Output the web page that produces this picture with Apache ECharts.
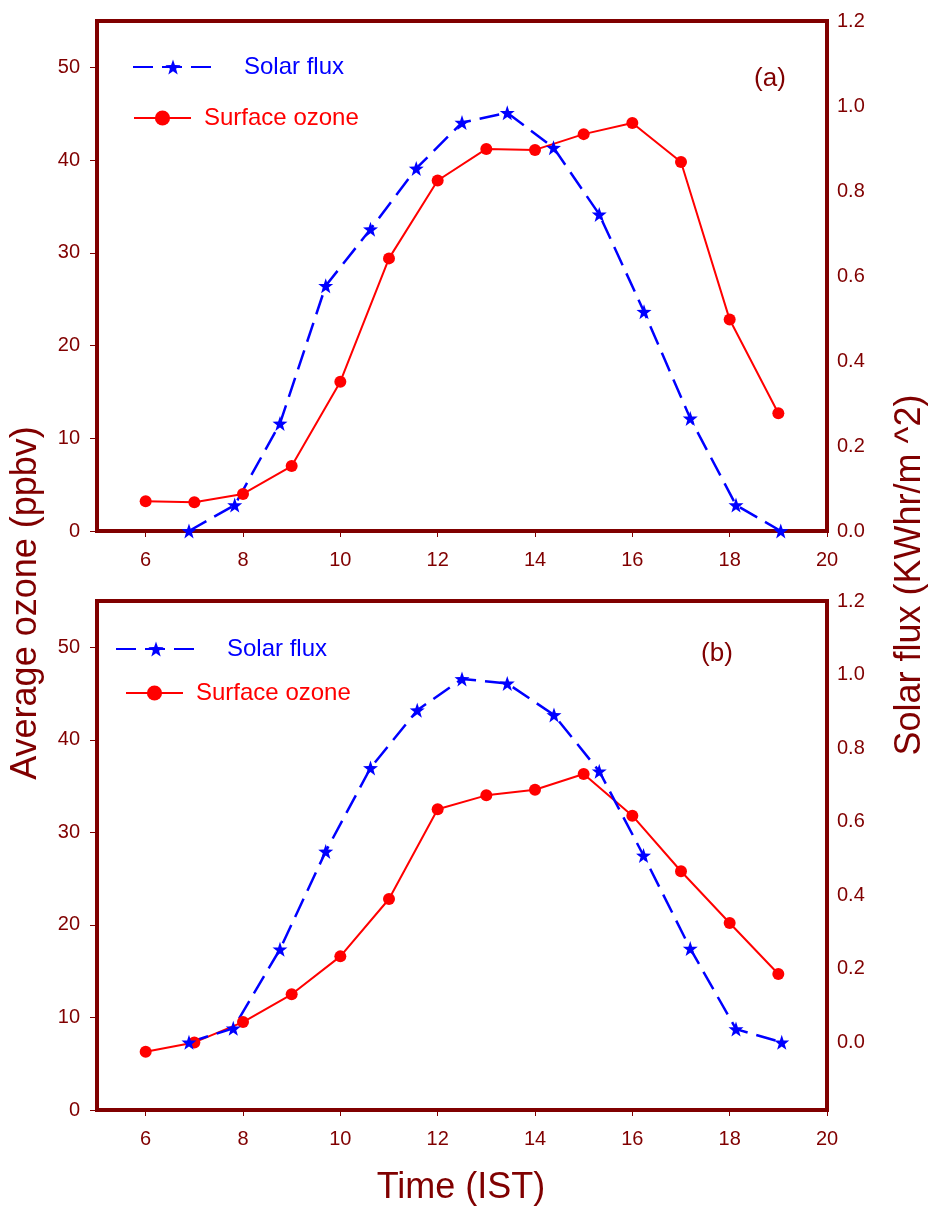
<!DOCTYPE html>
<html lang="en">
<head>
    <meta charset="UTF-8">
    <title>Surface ozone and solar flux</title>
    <script src="https://cdn.jsdelivr.net/npm/echarts@6/dist/echarts.min.js"></script>
    <style>
        html, body { margin: 0; padding: 0; background: #fff; }
        #main { width: 930px; height: 1206px; }
    </style>
</head>
<body>
<div id="main"></div>
<script>
    // hours for the ozone points
    var hours = [6, 7, 8, 9, 10, 11, 12, 13, 14, 15, 16, 17, 18, 19];
    // panel (a)
    var ozoneA = [3.2, 3.1, 4.0, 7.0, 16.1, 29.4, 37.8, 41.2, 41.1, 42.8, 44.0, 39.8, 22.8, 12.7];
    var fluxTimeA = [6.89, 7.83, 8.76, 9.70, 10.62, 11.56, 12.50, 13.43, 14.38, 15.32, 16.24, 17.19, 18.13, 19.05];
    var fluxA = [0.0, 0.061, 0.253, 0.577, 0.710, 0.853, 0.961, 0.984, 0.902, 0.745, 0.516, 0.265, 0.061, 0.0];
    // panel (b)
    var ozoneB = [6.3, 7.3, 9.5, 12.5, 16.6, 22.8, 32.5, 34.0, 34.6, 36.3, 31.8, 25.8, 20.2, 14.7];
    var fluxTimeB = [6.89, 7.80, 8.76, 9.70, 10.62, 11.58, 12.50, 13.43, 14.39, 15.32, 16.23, 17.19, 18.13, 19.07];
    var fluxB = [0.0, 0.038, 0.253, 0.519, 0.746, 0.903, 0.988, 0.976, 0.890, 0.737, 0.508, 0.255, 0.036, 0.0];
    // tick labels
    var xTicks = [6, 8, 10, 12, 14, 16, 18, 20];
    var ozoneTicks = [0, 10, 20, 30, 40, 50];
    var fluxTicks = [0, 0.2, 0.4, 0.6, 0.8, 1.0, 1.2];

    var maroon = '#800000';
    var font = 'Arial, "Liberation Sans", sans-serif';
    var star = 'path://M0,-10 L2.35,-3.24 L9.51,-3.09 L3.8,1.24 L5.88,8.09 L0,4 L-5.88,8.09 L-3.8,1.24 L-9.51,-3.09 L-2.35,-3.24 Z';

    function pairs(xs, ys) {
        var out = [];
        for (var i = 0; i < xs.length; i++) out.push([xs[i], ys[i]]);
        return out;
    }

    function xAxisFor(g) {
        return {
            type: 'value', gridIndex: g, min: 5, max: 20,
            splitLine: {show: false},
            axisLine: {show: true, lineStyle: {color: maroon, width: 4}},
            axisTick: {show: true, length: 6, customValues: xTicks, lineStyle: {color: maroon, width: 1}},
            axisLabel: {customValues: xTicks, color: maroon, fontSize: 20, fontFamily: font, margin: 19}
        };
    }

    function ozoneAxis(g) {
        return {
            type: 'value', gridIndex: g, position: 'left', min: 0, max: 55,
            splitLine: {show: false},
            axisLine: {show: true, onZero: false, lineStyle: {color: maroon, width: 4}},
            axisTick: {show: true, length: 7, customValues: ozoneTicks, lineStyle: {color: maroon, width: 1}},
            axisLabel: {customValues: ozoneTicks, color: maroon, fontSize: 20, fontFamily: font, margin: 17}
        };
    }

    function fluxAxis(g, lo) {
        return {
            type: 'value', gridIndex: g, position: 'right', min: lo, max: 1.2,
            splitLine: {show: false},
            axisLine: {show: true, onZero: false, lineStyle: {color: maroon, width: 4}},
            axisTick: {show: false},
            axisLabel: {
                customValues: fluxTicks, color: maroon, fontSize: 20, fontFamily: font, margin: 10,
                formatter: function (v) { return v.toFixed(1); }
            }
        };
    }

    function ozoneSeries(x, y, data) {
        return {
            name: 'Surface ozone', type: 'line', xAxisIndex: x, yAxisIndex: y,
            data: pairs(hours, data),
            symbol: 'circle', symbolSize: 12,
            lineStyle: {color: '#ff0000', width: 2},
            itemStyle: {color: '#ff0000'}
        };
    }

    function fluxSeries(x, y, xs, data) {
        return {
            name: 'Solar flux', type: 'line', xAxisIndex: x, yAxisIndex: y,
            data: pairs(xs, data),
            symbol: star, symbolSize: 15,
            lineStyle: {color: '#0000ff', width: 2.5, type: [20, 9]},
            itemStyle: {color: '#0000ff'}
        };
    }

    function legendFor(name, left, top, width, color, pad) {
        return {
            data: [name], left: left, top: top, padding: 0,
            itemWidth: width, itemHeight: 19, selectedMode: false,
            textStyle: {color: color, fontSize: 24, fontFamily: font, lineHeight: 24, padding: [0, 0, 0, pad]}
        };
    }

    var chart = echarts.init(document.getElementById('main'));
    var option = {
        animation: false,
        backgroundColor: '#fff',
        grid: [
            {left: 97, top: 21, width: 730, height: 510, show: true, borderWidth: 4, borderColor: maroon, containLabel: false},
            {left: 97, top: 601, width: 730, height: 509, show: true, borderWidth: 4, borderColor: maroon, containLabel: false}
        ],
        xAxis: [xAxisFor(0), xAxisFor(1)],
        yAxis: [ozoneAxis(0), fluxAxis(0, 0), ozoneAxis(1), fluxAxis(1, -0.184)],
        legend: [
            legendFor('Solar flux', 132, 55, 80, '#0000ff', 26),
            legendFor('Surface ozone', 133, 106, 57, '#ff0000', 8),
            legendFor('Solar flux', 115, 637, 80, '#0000ff', 26),
            legendFor('Surface ozone', 125, 681, 57, '#ff0000', 8)
        ],
        series: [
            ozoneSeries(0, 0, ozoneA),
            fluxSeries(0, 1, fluxTimeA, fluxA),
            ozoneSeries(1, 2, ozoneB),
            fluxSeries(1, 3, fluxTimeB, fluxB)
        ],
        graphic: [
            {type: 'text', x: 770, y: 79, style: {text: '(a)', fill: maroon, font: '26px ' + font, align: 'center', verticalAlign: 'middle'}},
            {type: 'text', x: 717, y: 654, style: {text: '(b)', fill: maroon, font: '26px ' + font, align: 'center', verticalAlign: 'middle'}},
            {type: 'text', x: 26, y: 603, rotation: Math.PI / 2,
                style: {text: 'Average ozone (ppbv)', fill: maroon, font: '36px ' + font, align: 'center', verticalAlign: 'middle'}},
            {type: 'text', x: 910, y: 575, rotation: Math.PI / 2,
                style: {text: 'Solar flux (KWhr/m ^2)', fill: maroon, font: '36px ' + font, align: 'center', verticalAlign: 'middle'}},
            {type: 'text', x: 461, y: 1188,
                style: {text: 'Time (IST)', fill: maroon, font: '36px ' + font, align: 'center', verticalAlign: 'middle'}}
        ]
    };
    chart.setOption(option);
</script>
</body>
</html>
